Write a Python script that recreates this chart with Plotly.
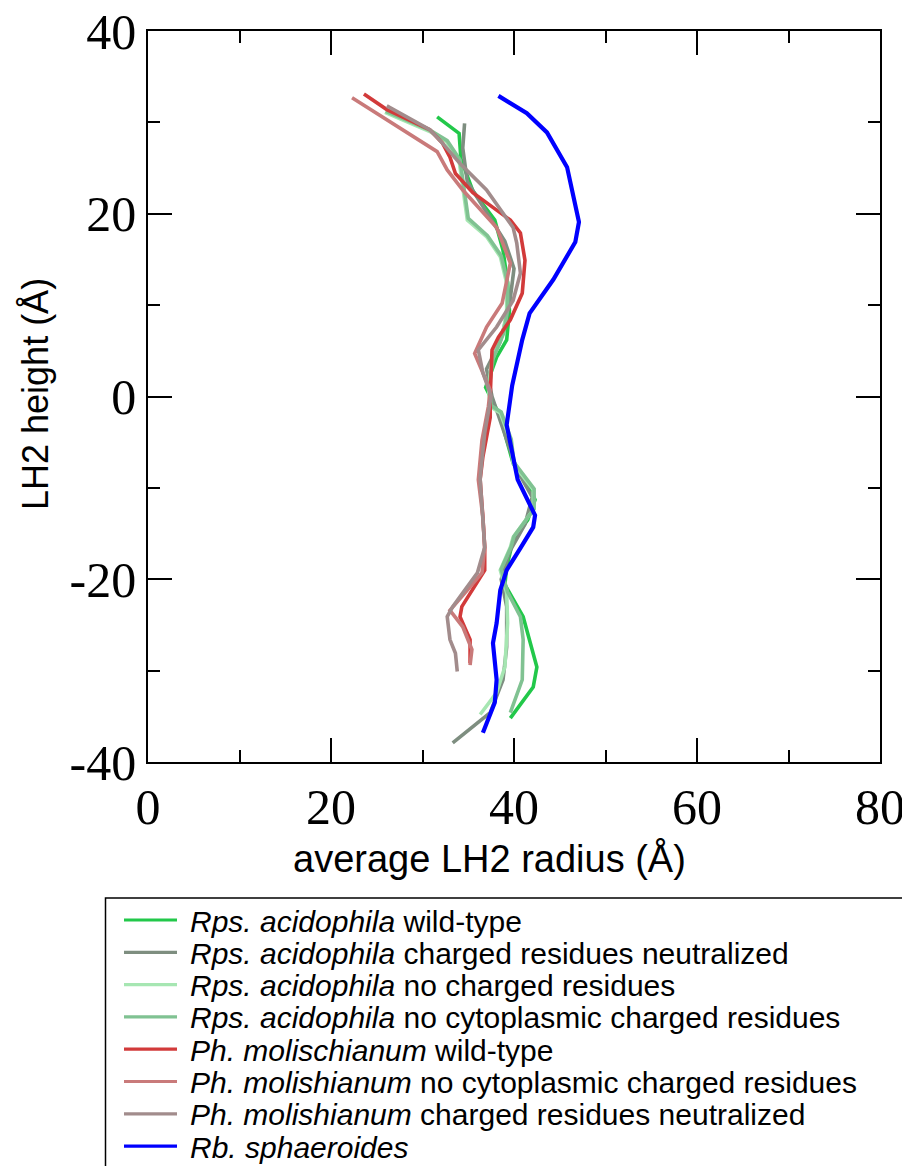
import plotly.graph_objects as go

# ---- data (average LH2 radius x, LH2 height y) ----
rps_wt_x = [31.6, 34.0, 34.2, 35.5, 37.9, 38.8, 39.3, 39.5, 39.2, 38.1, 36.9, 38.5, 39.2, 39.9, 41.7, 42.3, 41.5, 39.9, 39.2, 39.0, 41.0, 42.5, 42.1, 39.6]
rps_wt_y = [30.6, 28.8, 26.0, 22.5, 19.3, 16.0, 12.4, 9.4, 6.2, 4.3, 1.0, -2.2, -4.8, -7.3, -9.9, -11.3, -13.5, -15.7, -18.7, -20.6, -24.1, -29.6, -31.8, -35.2]

rps_neut_x = [34.6, 34.4, 34.9, 37.0, 39.0, 40.0, 39.5, 38.5, 37.0, 37.6, 39.0, 40.3, 42.0, 41.2, 39.5, 38.6, 39.2, 39.2, 38.8, 37.4, 33.3]
rps_neut_y = [29.9, 27.2, 23.5, 20.1, 17.0, 14.0, 10.0, 6.0, 3.0, 0.0, -4.0, -8.0, -11.0, -14.0, -17.0, -20.0, -23.0, -27.4, -31.0, -34.6, -37.9]

rps_nocharge_x = [25.9, 30.8, 32.6, 34.0, 34.9, 37.0, 38.5, 39.2, 39.2, 38.8, 37.6, 37.2, 37.4, 38.5, 39.6, 39.9, 42.1, 42.1, 39.9, 39.6, 38.5, 39.2, 39.3, 39.0, 38.1, 36.3]
rps_nocharge_y = [31.1, 29.0, 27.9, 25.8, 19.3, 17.5, 15.3, 12.4, 9.5, 6.9, 4.0, 1.0, -1.1, -1.8, -4.8, -7.3, -10.2, -12.4, -15.4, -16.5, -19.0, -21.5, -24.8, -29.6, -32.4, -34.8]

rps_nocyto_x = [26.0, 30.9, 32.7, 34.1, 35.0, 37.1, 38.6, 39.3, 39.3, 38.9, 37.7, 37.3, 37.5, 38.6, 39.7, 40.0, 42.2, 42.2, 40.0, 39.7, 38.6, 39.3, 40.7, 41.0, 40.9, 39.6]
rps_nocyto_y = [31.2, 29.1, 28.0, 25.9, 19.5, 17.6, 15.4, 12.5, 9.6, 7.0, 4.1, 1.1, -1.0, -1.7, -4.7, -7.2, -10.1, -12.3, -15.3, -16.4, -18.9, -21.4, -24.1, -26.6, -31.0, -34.6]

ph_wt_x = [23.6, 26.1, 30.8, 32.2, 33.0, 33.6, 35.5, 39.6, 40.7, 41.2, 40.9, 39.6, 38.3, 37.6, 37.4, 37.4, 36.6, 36.3, 36.6, 36.8, 36.8, 35.4, 34.3, 34.1, 35.2, 35.2]
ph_wt_y = [33.1, 31.4, 29.2, 27.7, 26.2, 24.4, 22.3, 19.3, 17.9, 14.9, 11.3, 8.4, 6.5, 5.1, 0.0, -2.3, -6.6, -9.1, -13.2, -16.5, -19.0, -21.2, -23.0, -24.1, -26.6, -29.2]

ph_nocyto_x = [22.3, 31.6, 32.7, 34.4, 38.1, 39.6, 38.7, 37.0, 35.7, 37.4, 37.2, 36.5, 36.1, 36.6, 36.8, 36.5, 34.9, 33.0, 34.4, 35.4, 35.2]
ph_nocyto_y = [32.7, 26.8, 24.8, 22.6, 18.5, 14.6, 10.2, 7.6, 4.7, 0.7, -1.1, -4.8, -9.1, -13.2, -16.5, -19.3, -21.2, -23.4, -25.2, -27.7, -29.4]

ph_neut_x = [26.1, 30.8, 32.2, 34.1, 37.0, 39.9, 40.3, 40.7, 39.9, 38.1, 36.1, 36.6, 37.5, 36.8, 36.3, 36.6, 36.8, 36.0, 33.3, 32.7, 33.0, 33.6, 33.8]
ph_neut_y = [31.8, 29.2, 27.7, 25.5, 22.6, 18.5, 16.8, 13.5, 10.5, 7.6, 5.1, 2.6, 0.0, -4.0, -9.0, -13.0, -16.5, -19.3, -23.0, -24.1, -26.6, -28.1, -30.1]

rb_x = [38.3, 41.4, 43.6, 45.8, 47.1, 46.7, 44.3, 41.7, 40.9, 39.8, 39.2, 40.4, 42.3, 42.1, 40.7, 39.2, 38.5, 38.1, 37.7, 38.1, 37.9, 36.6]
rb_y = [32.9, 31.0, 28.9, 25.1, 19.1, 16.9, 12.8, 9.1, 6.2, 1.2, -3.1, -9.1, -13.0, -14.3, -16.6, -19.0, -21.2, -24.8, -27.0, -31.0, -33.5, -36.8]

series_names = [
    "<i>Rps. acidophila</i> wild-type",
    "<i>Rps. acidophila</i> charged residues neutralized",
    "<i>Rps. acidophila</i> no charged residues",
    "<i>Rps. acidophila</i> no cytoplasmic charged residues",
    "<i>Ph. molischianum</i> wild-type",
    "<i>Ph. molishianum</i> no cytoplasmic charged residues",
    "<i>Ph. molishianum</i> charged residues neutralized",
    "<i>Rb. sphaeroides</i>",
]
series_x = [rps_wt_x, rps_neut_x, rps_nocharge_x, rps_nocyto_x, ph_wt_x, ph_nocyto_x, ph_neut_x, rb_x]
series_y = [rps_wt_y, rps_neut_y, rps_nocharge_y, rps_nocyto_y, ph_wt_y, ph_nocyto_y, ph_neut_y, rb_y]
colors = ["#22c84a", "#7e8e80", "#a6e6b2", "#80c292", "#d23a3a", "#c97a7a", "#a28c8c", "#0000ff"]
widths = [3.6, 3.6, 3.6, 3.6, 3.6, 3.6, 3.6, 4.2]

x_ticks = [0, 20, 40, 60, 80]
x_ticklabels = ["0", "20", "40", "60", "80"]
y_ticks = [-40, -20, 0, 20, 40]
y_ticklabels = ["-40", "-20", "0", "20", "40"]

# plot area geometry in figure pixels (figure is offset by the 8px page margin)
W, H = 902, 1158
L, T, PW, PH = 140, 23, 732, 731


def px_to_paper(px, py):
    """page pixel (reference coords) -> paper coords"""
    return (px - 8 - L) / PW, 1 - (py - 8 - T) / PH


fig = go.Figure()
for name, xs, ys, c, w in zip(series_names, series_x, series_y, colors, widths):
    fig.add_trace(go.Scatter(x=xs, y=ys, mode="lines", name=name,
                             line=dict(color=c, width=w), showlegend=False))

tickfont = dict(family="Liberation Serif", size=50, color="black")
xtitlefont = dict(family="Liberation Sans", size=38, color="black")
ytitlefont = dict(family="Liberation Sans", size=36, color="black")

shapes = []
annotations = []

# legend box (extends past the right and bottom edges as in the reference)
bx0, by0 = px_to_paper(105.5, 898)
bx1, by1 = px_to_paper(1000, 1300)
shapes.append(dict(type="rect", xref="paper", yref="paper",
                   x0=bx0, y0=by1, x1=bx1, y1=by0,
                   line=dict(color="black", width=1.5), fillcolor="white", layer="below"))
for i, (name, c) in enumerate(zip(series_names, colors)):
    ly = 920 + 32.3 * i
    lx0, lyp = px_to_paper(124, ly)
    lx1, _ = px_to_paper(177, ly)
    shapes.append(dict(type="line", xref="paper", yref="paper",
                       x0=lx0, x1=lx1, y0=lyp, y1=lyp,
                       line=dict(color=c, width=3.2)))
    tx, ty = px_to_paper(188, ly + 1)
    annotations.append(dict(text=name, x=tx, y=ty, xref="paper", yref="paper",
                            xanchor="left", yanchor="middle", showarrow=False,
                            font=dict(family="Liberation Sans", size=30, color="black")))

# axis titles
ax_x, ax_y = px_to_paper(489, 858)
annotations.append(dict(text="average LH2 radius (Å)", x=ax_x, y=ax_y, xref="paper", yref="paper",
                        xanchor="center", yanchor="middle", showarrow=False, font=xtitlefont))
ay_x, ay_y = px_to_paper(35, 394)
annotations.append(dict(text="LH2 height (Å)", x=ay_x, y=ay_y, xref="paper", yref="paper",
                        xanchor="center", yanchor="middle", showarrow=False, textangle=-90,
                        font=ytitlefont))

fig.update_layout(
    width=W, height=H,
    margin=dict(l=L, r=W - L - PW, t=T, b=H - T - PH, autoexpand=False),
    paper_bgcolor="white", plot_bgcolor="white",
    showlegend=False,
    shapes=shapes, annotations=annotations,
)
axis_common = dict(
    showgrid=False, zeroline=False,
    showline=True, linecolor="black", linewidth=1.5, mirror="ticks",
    ticks="inside", ticklen=24, tickwidth=1.5, tickcolor="black",
    tickfont=tickfont, ticklabeloverflow="allow",
)
fig.update_xaxes(range=[0, 80], tickvals=x_ticks, ticktext=x_ticklabels,
                 minor=dict(ticks="inside", ticklen=12, tickwidth=1.5, dtick=10, tick0=0, tickcolor="black"),
                 **axis_common)
fig.update_yaxes(range=[-40, 40], tickvals=y_ticks, ticktext=y_ticklabels,
                 minor=dict(ticks="inside", ticklen=12, tickwidth=1.5, dtick=10, tick0=0, tickcolor="black"),
                 **axis_common)

fig.write_html("out.html")
